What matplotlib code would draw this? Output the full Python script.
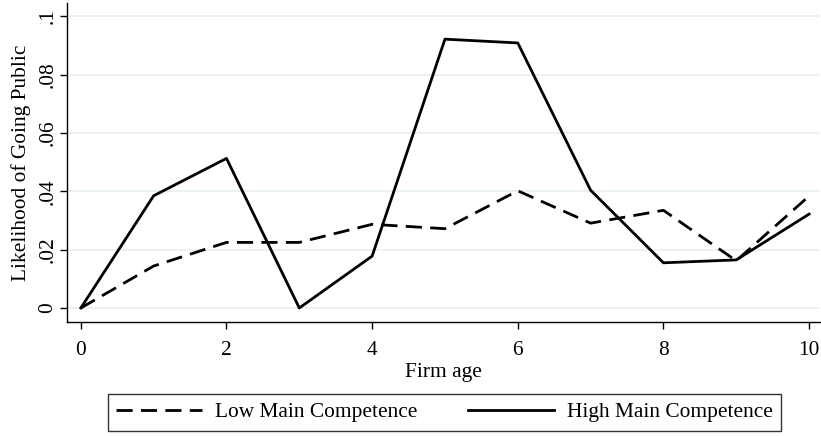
import matplotlib
matplotlib.use("Agg")
import matplotlib.pyplot as plt

plt.rcParams['font.family'] = ['Liberation Serif', 'DejaVu Serif']

firm_age = [0, 1, 2, 3, 4, 5, 6, 7, 8, 9, 10]
low_main = [0.0, 0.0144, 0.0225, 0.0225, 0.0287, 0.0272, 0.0402, 0.0291, 0.0335, 0.0162, 0.0384]
high_main = [0.0, 0.0385, 0.0513, 0.0, 0.0178, 0.0922, 0.0909, 0.0404, 0.0155, 0.0165, 0.0322]

y_ticks = [0, 0.02, 0.04, 0.06, 0.08, 0.1]
y_tick_labels = ["0", ".02", ".04", ".06", ".08", ".1"]
x_ticks = [0, 2, 4, 6, 8, 10]

FS = 15.4

fig = plt.figure(figsize=(8.21, 4.36), dpi=100)
ax = fig.add_axes([67/821, 1 - 322/436, (820 - 67)/821, (322 - 3)/436])

ax.plot(firm_age, low_main, color='black', lw=2.0, ls=(0, (5.8, 3.0)),
        label='Low Main Competence')
ax.plot(firm_age, high_main, color='black', lw=2.0, ls='-',
        label='High Main Competence')

ax.set_xlim(-0.19, 10.15)
ax.set_ylim(-0.0048, 0.1046)
ax.set_yticks(y_ticks)
ax.set_yticklabels(y_tick_labels, rotation=90, va='center')
ax.set_xticks(x_ticks)

for yt in y_ticks:
    ax.axhline(yt, color='#e6eff1', lw=1.2, zorder=0)

for side in ('top', 'right'):
    ax.spines[side].set_visible(False)
for side in ('left', 'bottom'):
    ax.spines[side].set_linewidth(1.0)

ax.tick_params(axis='both', direction='out', length=5, width=1.0,
               labelsize=FS, colors='black')
ax.tick_params(axis='y', pad=2)
ax.tick_params(axis='x', pad=9)

ax.set_xlabel('Firm age', fontsize=FS, labelpad=2)
ax.set_ylabel('Likelihood of Going Public', fontsize=FS, labelpad=5)

handles, labels = ax.get_legend_handles_labels()
leg = fig.legend(handles, labels, loc='center', ncol=2,
                 bbox_to_anchor=(444.5/821, 1 - 412.5/436),
                 fontsize=FS, frameon=True, fancybox=False,
                 edgecolor='black', handlelength=4.0, handletextpad=0.6,
                 columnspacing=2.4, borderpad=0.4)
leg.get_frame().set_linewidth(1.0)

fig.savefig('out.png', dpi=100)
